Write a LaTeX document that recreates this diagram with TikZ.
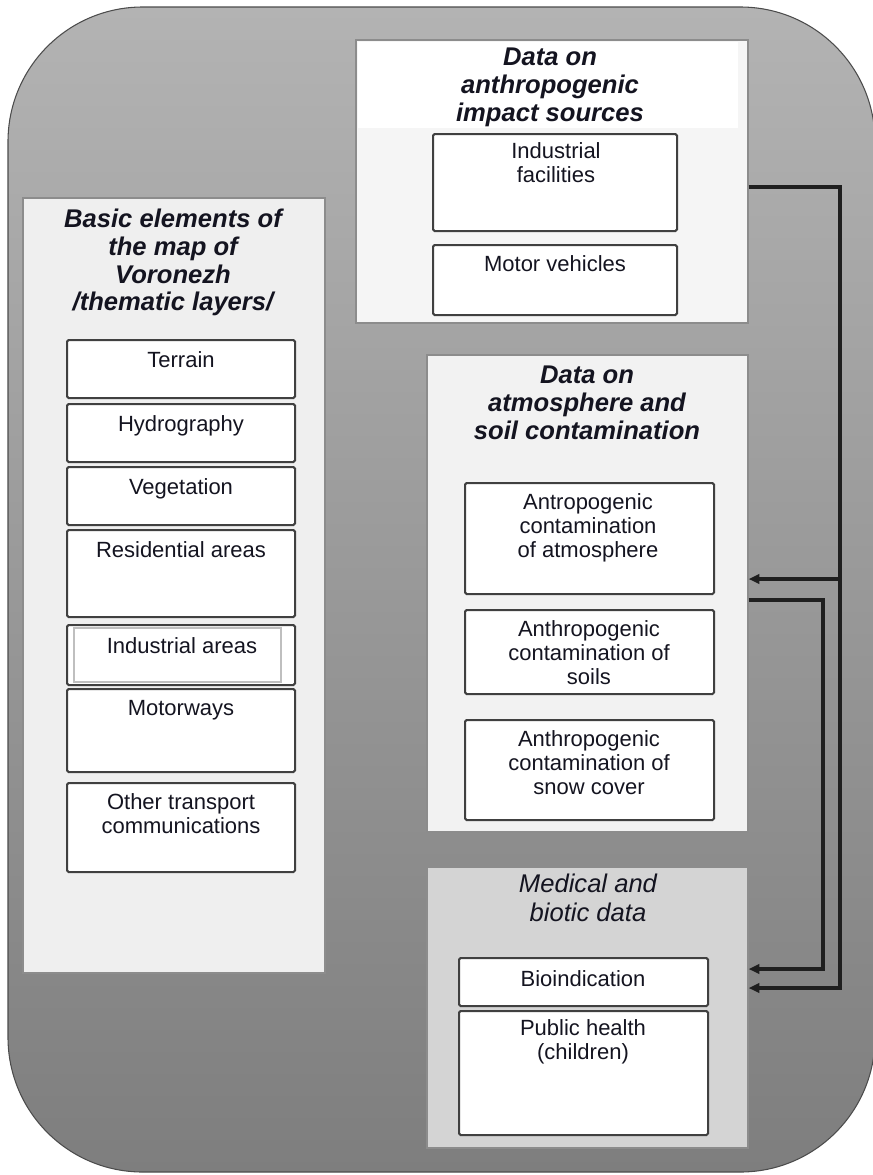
\documentclass[tikz,border=0pt]{standalone}
\usepackage{fontspec}
\setmainfont{Liberation Sans}
\usetikzlibrary{fit,arrows.meta}
\definecolor{bgtop}{HTML}{B3B3B3}
\definecolor{bgbot}{HTML}{7E7E7E}
\definecolor{panL}{HTML}{EFEFEF}
\definecolor{panT}{HTML}{F5F5F5}
\definecolor{panM}{HTML}{F2F2F2}
\definecolor{panB}{HTML}{D4D4D4}
\definecolor{ink}{HTML}{141420}
\begin{document}
\begin{tikzpicture}[x=0.75pt,y=-0.75pt,
  panel/.style={draw=black!45,line width=1pt,inner sep=0pt},
  item/.style={draw=black!75,fill=white,line width=1.5pt,rounded corners=1.2pt,inner sep=0pt},
  body/.style={font=\fontsize{16.5}{18}\selectfont,align=center,anchor=north,inner sep=0pt,text=ink,
    execute at begin node={\rule{0pt}{12.375pt}}},
  ttl/.style={font=\fontsize{19.2}{20.8}\selectfont\bfseries\itshape,align=center,anchor=north,inner sep=0pt,text=ink,
    execute at begin node={\rule{0pt}{14.4pt}}},
  ttlr/.style={font=\fontsize{19.2}{21.8}\selectfont\itshape,align=center,anchor=north,inner sep=0pt,text=ink,
    execute at begin node={\rule{0pt}{14.4pt}}},
  conn/.style={draw=black!88,line width=2.6pt},
  arr/.style={-{Triangle[length=8pt,width=7pt]}}
]
\useasboundingbox (0,0) rectangle (873,1175);
% background
\shadedraw[top color=bgtop,bottom color=bgbot,draw=black!70,line width=0.8pt,rounded corners=101pt]
  (8,7) rectangle (875,1172);

% panels
\node[panel,fill=panL,fit={(23,198)(325,973)}] (pmap) {};
\node[panel,fill=panT,fit={(356,40)(748,323)}] (psrc) {};
\node[fill=white,inner sep=0pt,fit={(357.5,41.5)(738,128)}] (psrchead) {};
\node[panel,fill=panM,fit={(427,355)(748,832)}] (pcont) {};
\node[panel,fill=panB,fit={(427,867)(748,1148)}] (pmed) {};

% titles
\node[ttl] (tmap) at (173,208.8) {Basic elements of\\the map of\\Voronezh\\/thematic layers/};
\node[ttl] (tsrc) at (550,47.8) {Data on\\anthropogenic\\impact sources};
\node[ttl] (tcont) at (587,365.8) {Data on\\atmosphere and\\soil contamination};
\node[ttlr] (tmed) at (588,873.8) {Medical and\\biotic data};

% left items
\node[item,fit={(67,340)(295,398)}] (terrain) {};
\node[item,fit={(67,404)(295,462)}] (hydro) {};
\node[item,fit={(67,467)(295,525)}] (veg) {};
\node[item,fit={(67,530)(295,617)}] (resid) {};
\node[item,fit={(67,625)(295,685)}] (indar) {};
\node[draw=black!25,line width=1.3pt,inner sep=0pt,fit={(74,628)(281,682)}] (indarin) {};
\node[item,fit={(67,689)(295,772)}] (motorw) {};
\node[item,fit={(67,783)(295,872)}] (othtr) {};

\node[body] (lterrain) at (181,350.5) {Terrain};
\node[body] (lhydro) at (181,414.5) {Hydrography};
\node[body] (lveg) at (181,477.5) {Vegetation};
\node[body] (lresid) at (181,540.5) {Residential areas};
\node[body] (lindar) at (182,636.5) {Industrial areas};
\node[body] (lmotorw) at (181,698.5) {Motorways};
\node[body] (lothtr) at (181,793.5) {Other transport\\communications};

% source items
\node[item,fit={(433,134)(677,231)}] (indfac) {};
\node[item,fit={(433,245)(677,315)}] (motveh) {};
\node[body] (lindfac) at (556,142.5) {Industrial\\facilities};
\node[body] (lmotveh) at (555,254.5) {Motor vehicles};

% contamination items
\node[item,fit={(465,483)(714,594)}] (atm) {};
\node[item,fit={(465,610)(714,694)}] (soil) {};
\node[item,fit={(465,720)(714,820)}] (snow) {};
\node[body] (latm) at (588,493.5) {Antropogenic\\contamination\\of atmosphere};
\node[body] (lsoil) at (589,620.5) {Anthropogenic\\contamination of\\soils};
\node[body] (lsnow) at (589,730.5) {Anthropogenic\\contamination of\\snow cover};

% medical items
\node[item,fit={(459,958)(708,1006)}] (bio) {};
\node[item,fit={(459,1011)(708,1135)}] (health) {};
\node[body] (lbio) at (583,969.5) {Bioindication};
\node[body] (lhealth) at (583,1019.5) {Public health\\(children)};

% connectors
\coordinate (a0) at (840,187);
\coordinate (a1) at (840,988);
\coordinate (b0) at (840,579);
\coordinate (c0) at (823,600);
\coordinate (c1) at (823,969);
\draw[conn,arr] (psrc.east |- a0) -- (a0) -- (a1) -- (pmed.east |- a1);
\draw[conn,arr] (b0) -- (pcont.east |- b0);
\draw[conn,arr] (pcont.east |- c0) -- (c0) -- (c1) -- (pmed.east |- c1);
\end{tikzpicture}
\end{document}
